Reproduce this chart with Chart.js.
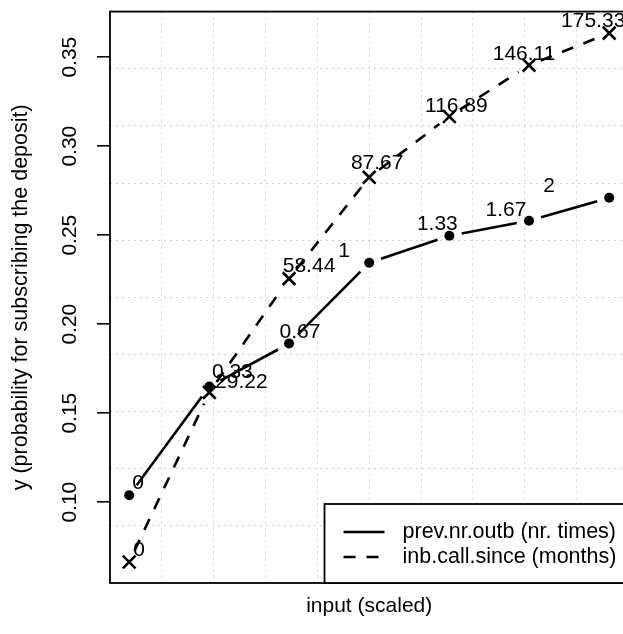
<!DOCTYPE html>
<html>
<head>
<meta charset="utf-8">
<script src="https://cdn.jsdelivr.net/npm/chart.js@4.4.1/dist/chart.umd.min.js"></script>
<style>
    html, body { margin: 0; padding: 0; background: #fff; overflow: hidden; }
    canvas { display: block; }
</style>
</head>
<body>
<canvas id="effectChart" width="640" height="634"></canvas>
<script>
// input position on the scaled axis (0 = min, 1 = max of each variable)
const inputScaled = [0, 0.167, 0.333, 0.5, 0.667, 0.833, 1];

const prevLabels = ['0', '0.33', '0.67', '1', '1.33', '1.67', '2'];
const prevProb = [0.1039, 0.1650, 0.1891, 0.2345, 0.2497, 0.2581, 0.2710];

const inbLabels = ['0', '29.22', '58.44', '87.67', '116.89', '146.11', '175.33'];
const inbProb = [0.0664, 0.1617, 0.2256, 0.2825, 0.3167, 0.3455, 0.3635];

const yTicks = [0.10, 0.15, 0.20, 0.25, 0.30, 0.35];

const X_MIN = -0.04, X_MAX = 1.04;
const Y_MIN = 0.0546, Y_MAX = 0.3756;
const FONT = "'Liberation Sans', Arial, Helvetica, sans-serif";
const FONT_SIZE = 21;

Chart.defaults.font.family = FONT;
Chart.defaults.font.size = FONT_SIZE;
Chart.defaults.color = '#000';

// ten equal divisions of the plotting region, like grid(10, 10)
function equalDivisions(min, max) {
    const out = [];
    for (let k = 1; k < 10; k++) out.push({ value: min + (max - min) * k / 10 });
    return out;
}

// lines of a type = "b" plot: segments stop short of each point
const gappedLines = {
    id: 'gappedLines',
    afterDatasetsDraw(chart, args, opts) {
        const ctx = chart.ctx;
        const gap = opts.gap;
        ctx.save();
        chart.data.datasets.forEach((ds, di) => {
            const pts = chart.getDatasetMeta(di).data;
            ctx.strokeStyle = ds.borderColor;
            ctx.lineWidth = ds.borderWidth;
            ctx.setLineDash(ds.borderDash || []);
            for (let i = 0; i < pts.length - 1; i++) {
                const a = pts[i], b = pts[i + 1];
                const dx = b.x - a.x, dy = b.y - a.y;
                const d = Math.hypot(dx, dy);
                if (d <= 2 * gap) continue;
                const ux = dx / d, uy = dy / d;
                ctx.beginPath();
                ctx.moveTo(a.x + ux * gap, a.y + uy * gap);
                ctx.lineTo(b.x - ux * gap, b.y - uy * gap);
                ctx.stroke();
            }
        });
        ctx.restore();
    }
};

// value labels next to each point
const pointLabels = {
    id: 'pointLabels',
    afterDatasetsDraw(chart, args, opts) {
        const ctx = chart.ctx;
        ctx.save();
        ctx.font = FONT_SIZE + 'px ' + FONT;
        ctx.fillStyle = '#000';
        ctx.textAlign = 'center';
        ctx.textBaseline = 'middle';
        chart.data.datasets.forEach((ds, di) => {
            const pts = chart.getDatasetMeta(di).data;
            const shift = opts.offsets[di];
            pts.forEach((p, i) => {
                ctx.fillText(ds.valueLabels[i], p.x + shift[i][0], p.y + shift[i][1]);
            });
        });
        ctx.restore();
    }
};

// box around the plot plus the bottom-right legend
const frameAndLegend = {
    id: 'frameAndLegend',
    afterDraw(chart) {
        const ctx = chart.ctx;
        const a = chart.chartArea;
        ctx.save();
        ctx.strokeStyle = '#000';
        ctx.lineWidth = 1.8;
        ctx.setLineDash([]);
        ctx.strokeRect(a.left, a.top, a.right - a.left, a.bottom - a.top);

        ctx.font = '21.5px ' + FONT;
        const labels = chart.data.datasets.map(ds => ds.label);
        const textW = Math.max(...labels.map(t => ctx.measureText(t).width));
        const w = 19 + 41 + 18 + textW + 12;
        const h = 79;
        const left = a.right - w, top = a.bottom - h;
        ctx.fillStyle = '#fff';
        ctx.fillRect(left, top, w, h);
        ctx.strokeRect(left, top, w, h);

        ctx.fillStyle = '#000';
        ctx.textAlign = 'left';
        ctx.textBaseline = 'middle';
        chart.data.datasets.forEach((ds, i) => {
            const y = top + 28 + i * 25;
            ctx.lineWidth = ds.borderWidth;
            ctx.setLineDash(ds.borderDash || []);
            ctx.beginPath();
            ctx.moveTo(left + 19, y);
            ctx.lineTo(left + 60, y);
            ctx.stroke();
            ctx.fillText(ds.label, left + 78, y);
        });
        ctx.restore();
    }
};

new Chart(document.getElementById('effectChart'), {
    type: 'scatter',
    data: {
        datasets: [
            {
                label: 'prev.nr.outb (nr. times)',
                data: inputScaled.map((x, i) => ({ x: x, y: prevProb[i] })),
                valueLabels: prevLabels,
                showLine: false,
                borderColor: '#000',
                borderWidth: 2.6,
                borderDash: [],
                pointStyle: 'circle',
                pointRadius: 5,
                pointBorderWidth: 0,
                pointBackgroundColor: '#000',
                pointBorderColor: '#000'
            },
            {
                label: 'inb.call.since (months)',
                data: inputScaled.map((x, i) => ({ x: x, y: inbProb[i] })),
                valueLabels: inbLabels,
                showLine: false,
                borderColor: '#000',
                borderWidth: 2.6,
                borderDash: [12, 11],
                pointStyle: 'crossRot',
                pointRadius: 9,
                pointBorderWidth: 2.6,
                pointBackgroundColor: '#000',
                pointBorderColor: '#000'
            }
        ]
    },
    options: {
        responsive: false,
        animation: false,
        events: [],
        layout: { padding: { left: 0, top: 10, right: 10, bottom: 0 } },
        scales: {
            x: {
                type: 'linear',
                position: 'bottom',
                min: X_MIN,
                max: X_MAX,
                ticks: { display: false },
                grid: { display: false },
                border: { display: false },
                title: {
                    display: true,
                    text: 'input (scaled)',
                    color: '#000',
                    padding: { top: 0, bottom: 15 }
                },
                afterFit: scale => {
                    scale.height = 51;
                    scale.paddingLeft = 0;
                    scale.paddingRight = 0;
                }
            },
            xg: {
                type: 'linear',
                position: 'bottom',
                min: X_MIN,
                max: X_MAX,
                afterBuildTicks: scale => { scale.ticks = equalDivisions(X_MIN, X_MAX); },
                ticks: { display: false },
                grid: { color: '#d3d3d3', lineWidth: 1, drawTicks: false },
                border: { display: false, dash: [2, 4] },
                afterFit: scale => { scale.height = 0; }
            },
            y: {
                type: 'linear',
                position: 'left',
                min: Y_MIN,
                max: Y_MAX,
                afterBuildTicks: scale => { scale.ticks = yTicks.map(v => ({ value: v })); },
                ticks: {
                    minRotation: 90,
                    maxRotation: 90,
                    crossAlign: 'center',
                    padding: 6,
                    color: '#000',
                    callback: v => v.toFixed(2)
                },
                grid: {
                    drawOnChartArea: false,
                    drawTicks: true,
                    tickLength: 13,
                    color: '#000',
                    lineWidth: 1.6
                },
                border: { display: false },
                title: {
                    display: true,
                    text: 'y (probability for subscribing the deposit)',
                    color: '#000',
                    font: { size: 21.5 },
                    padding: { top: 8, bottom: 0 }
                },
                afterFit: scale => {
                    scale.width = 110;
                    scale.paddingTop = 0;
                    scale.paddingBottom = 0;
                }
            },
            yg: {
                type: 'linear',
                position: 'left',
                min: Y_MIN,
                max: Y_MAX,
                afterBuildTicks: scale => { scale.ticks = equalDivisions(Y_MIN, Y_MAX); },
                ticks: { display: false },
                grid: { color: '#d3d3d3', lineWidth: 1, drawTicks: false },
                border: { display: false, dash: [2, 4] },
                afterFit: scale => {
                    scale.width = 0;
                    scale.paddingTop = 0;
                    scale.paddingBottom = 0;
                }
            }
        },
        plugins: {
            legend: { display: false },
            tooltip: { enabled: false },
            gappedLines: { gap: 12.5 },
            pointLabels: {
                offsets: [
                    [[9, -12], [23, -14], [11, -11], [-25, -12], [-12, -12], [-23, -11], [-60, -12]],
                    [[10, -12], [32, -10], [20, -12], [8, -14], [7, -10], [-5, -11], [-16, -12]]
                ]
            }
        }
    },
    plugins: [gappedLines, pointLabels, frameAndLegend]
});
</script>
</body>
</html>
